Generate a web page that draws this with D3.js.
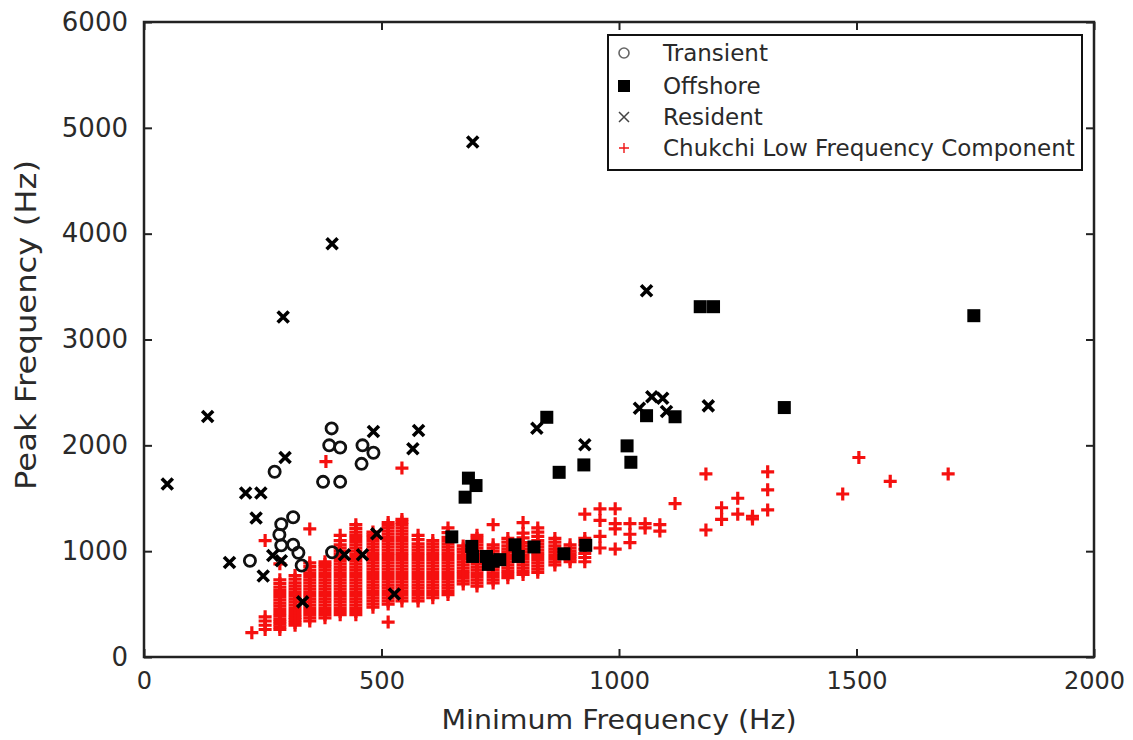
<!DOCTYPE html>
<html>
<head>
<meta charset="utf-8">
<script src="https://cdn.jsdelivr.net/npm/d3@7"></script>
<style>
  body { margin: 0; background: #fff; }
  svg text { font-family: "DejaVu Sans", sans-serif; fill: #2a2a2a; }
</style>
</head>
<body>
<div id="chart"></div>
<script>
// values (Hz)
const transientPts = [
  [395, 2160], [390, 2000], [413, 1980], [460, 2000], [483, 1930], [458, 1825],
  [275, 1750], [377, 1655], [413, 1655], [314, 1320], [289, 1255], [285, 1155],
  [289, 1055], [314, 1060], [325, 985], [332, 865], [223, 910], [396, 990]
];

const offshorePts = [
  [683, 1690], [699, 1620], [676, 1510], [848, 2265], [874, 1745], [926, 1815],
  [1017, 1995], [1025, 1840], [1058, 2280], [1118, 2270], [648, 1135], [690, 1045],
  [692, 950], [721, 950], [735, 905], [749, 920], [725, 875], [781, 1060], [788, 950],
  [821, 1040], [884, 975], [930, 1055], [1348, 2357], [1171, 3310], [1199, 3310], [1747, 3225]
];

const residentPts = [
  [134, 2272], [49, 1634], [214, 1549], [246, 1549], [297, 1885], [236, 1313],
  [180, 892], [251, 766], [271, 960], [289, 910], [334, 521], [422, 967], [460, 967],
  [490, 1165], [527, 596], [483, 2130], [566, 1967], [578, 2140], [692, 4866],
  [396, 3904], [293, 3212], [827, 2162], [928, 2005], [1043, 2351], [1069, 2460],
  [1092, 2445], [1100, 2319], [1188, 2373], [1058, 3460]
];

// Chukchi points grouped by their minimum-frequency column
const chukchiCols = [
  [227, [230]],
  [255, [260, 300, 340, 380, 1100]],
  [286, [260, 285, 310, 335, 360, 390, 420, 450, 480, 510, 540, 570, 600, 630, 660, 695, 730, 880]],
  [318, [300, 325, 350, 375, 400, 430, 460, 490, 520, 550, 580, 610, 640, 670, 700, 735, 770]],
  [349, [340, 370, 400, 430, 460, 490, 520, 550, 580, 610, 640, 670, 700, 730, 760, 790, 820, 855, 890, 1210]],
  [381, [370, 400, 430, 460, 490, 520, 550, 580, 610, 640, 670, 700, 730, 760, 790, 820, 850, 875, 900]],
  [413, [400, 430, 460, 490, 520, 550, 580, 610, 640, 670, 700, 730, 760, 790, 820, 850, 880, 910, 940, 970, 1000, 1030, 1060, 1100, 1150]],
  [446, [400, 430, 460, 490, 520, 550, 580, 610, 640, 670, 700, 730, 760, 790, 820, 850, 880, 910, 940, 970, 1000, 1030, 1060, 1090, 1120, 1150, 1180, 1215, 1250]],
  [482, [470, 500, 530, 560, 590, 620, 650, 680, 710, 740, 770, 800, 830, 860, 890, 920, 950, 980, 1010, 1040, 1070, 1100, 1130, 1155, 1180]],
  [514, [330, 500, 530, 560, 590, 620, 650, 680, 710, 740, 770, 800, 830, 860, 890, 920, 950, 980, 1010, 1040, 1070, 1100, 1130, 1160, 1190, 1220, 1245, 1270]],
  [543, [530, 560, 590, 620, 650, 680, 710, 740, 770, 800, 830, 860, 890, 920, 950, 980, 1010, 1040, 1070, 1100, 1130, 1160, 1190, 1220, 1250, 1275, 1300]],
  [577, [530, 560, 590, 620, 650, 680, 710, 740, 770, 800, 830, 860, 890, 920, 950, 980, 1010, 1040, 1070, 1110, 1150]],
  [608, [560, 590, 620, 650, 680, 710, 740, 770, 800, 830, 860, 890, 920, 950, 980, 1010, 1040, 1070, 1100]],
  [640, [590, 620, 650, 680, 710, 740, 770, 800, 830, 860, 890, 920, 950, 980, 1010, 1040, 1070, 1100, 1130, 1175, 1220]],
  [672, [690, 720, 750, 780, 810, 840, 870, 900, 930, 960, 990, 1020, 1050]],
  [701, [670, 700, 730, 760, 790, 820, 850, 880, 910, 940, 970, 1000, 1030, 1060, 1090, 1120, 1150]],
  [735, [700, 730, 760, 790, 820, 850, 880, 910, 940, 970, 1000, 1030, 1060, 1250]],
  [766, [750, 780, 810, 840, 870, 900, 930, 960, 990, 1020, 1050, 1085, 1120]],
  [798, [780, 810, 840, 870, 900, 930, 960, 990, 1020, 1050, 1080, 1125, 1170, 1270]],
  [829, [800, 830, 860, 890, 920, 950, 980, 1010, 1040, 1070, 1100, 1140, 1180, 1220]],
  [865, [870, 900, 930, 960, 990, 1020, 1050, 1085, 1120]],
  [897, [900, 925, 950, 975, 1000, 1030, 1060]],
  [928, [900, 940, 980, 1020, 1060, 1090, 1120, 1350]],
  [960, [1030, 1140, 1290, 1400]],
  [992, [1020, 1210, 1260, 1400]],
  [1023, [1080, 1160, 1260]],
  [1055, [1220, 1260]],
  [1086, [1190, 1250]],
  [1118, [1450]],
  [1183, [1200, 1730]],
  [1216, [1300, 1410]],
  [1250, [1350, 1500]],
  [1281, [1305, 1330]],
  [1313, [1390, 1580, 1750]],
  [1471, [1540]],
  [1505, [1885]],
  [1571, [1660]],
  [1693, [1730]]
];
const chukchiExtra = [[383, 1847], [543, 1785]];

const xTicks = [0, 500, 1000, 1500, 2000];
const yTicks = [0, 1000, 2000, 3000, 4000, 5000, 6000];
const seriesNames = ["Transient", "Offshore", "Resident", "Chukchi Low Frequency Component"];

const chukchiPts = chukchiCols.flatMap(([fx, ys]) => ys.map(fy => [fx, fy])).concat(chukchiExtra);

const width = 1133, height = 740;
const plotL = 144, plotR = 1094, plotT = 22, plotB = 657;

const svg = d3.select("#chart").append("svg")
  .attr("width", width)
  .attr("height", height);

const x = d3.scaleLinear().domain([0, 2000]).range([plotL, plotR]);
const y = d3.scaleLinear().domain([0, 6000]).range([plotB, plotT]);

// markers: red first so the black ones sit on top
svg.append("g").selectAll("path")
  .data(chukchiPts)
  .enter().append("path")
  .attr("transform", d => `translate(${x(d[0])},${y(d[1])})`)
  .attr("d", "M-6.5,0H6.5M0,-6.5V6.5")
  .attr("stroke", "#f5100f")
  .attr("stroke-width", 3.2)
  .attr("fill", "none");

svg.append("g").selectAll("circle")
  .data(transientPts)
  .enter().append("circle")
  .attr("cx", d => x(d[0]))
  .attr("cy", d => y(d[1]))
  .attr("r", 5.6)
  .attr("fill", "none")
  .attr("stroke", "#111")
  .attr("stroke-width", 2.8);

svg.append("g").selectAll("rect")
  .data(offshorePts)
  .enter().append("rect")
  .attr("x", d => x(d[0]) - 6.5)
  .attr("y", d => y(d[1]) - 6.5)
  .attr("width", 13)
  .attr("height", 13)
  .attr("fill", "#000");

svg.append("g").selectAll("path")
  .data(residentPts)
  .enter().append("path")
  .attr("transform", d => `translate(${x(d[0])},${y(d[1])})`)
  .attr("d", "M-5.5,-5.5L5.5,5.5M-5.5,5.5L5.5,-5.5")
  .attr("stroke", "#000")
  .attr("stroke-width", 3.6)
  .attr("fill", "none");

// axes with inward ticks on all four sides
const axisColor = "#222";
const fmt = d3.format("d");
function styleAxis(g) {
  g.select(".domain").remove();
  g.selectAll(".tick line").attr("stroke", axisColor).attr("stroke-width", 2);
}

svg.append("g")
  .attr("transform", `translate(0,${plotB})`)
  .call(d3.axisBottom(x).tickValues(xTicks).tickSize(-8).tickPadding(15).tickFormat(fmt))
  .call(styleAxis)
  .call(g => g.selectAll("text")
    .attr("font-size", 24)
    .attr("fill", "#2a2a2a"));

svg.append("g")
  .attr("transform", `translate(0,${plotT})`)
  .call(d3.axisTop(x).tickValues(xTicks).tickSize(-8).tickFormat(""))
  .call(styleAxis);

svg.append("g")
  .attr("transform", `translate(${plotL},0)`)
  .call(d3.axisLeft(y).tickValues(yTicks).tickSize(-8).tickPadding(16).tickFormat(fmt))
  .call(styleAxis)
  .call(g => g.selectAll("text")
    .attr("font-size", 26)
    .attr("fill", "#2a2a2a"));

svg.append("g")
  .attr("transform", `translate(${plotR},0)`)
  .call(d3.axisRight(y).tickValues(yTicks).tickSize(-8).tickFormat(""))
  .call(styleAxis);

svg.append("rect")
  .attr("x", plotL).attr("y", plotT)
  .attr("width", plotR - plotL).attr("height", plotB - plotT)
  .attr("fill", "none")
  .attr("stroke", axisColor)
  .attr("stroke-width", 2.5);

// axis titles
svg.append("text")
  .attr("x", 619)
  .attr("y", 729)
  .attr("text-anchor", "middle")
  .attr("font-size", 27)
  .attr("textLength", 355)
  .attr("lengthAdjust", "spacingAndGlyphs")
  .text("Minimum Frequency (Hz)");

svg.append("text")
  .attr("transform", "translate(36,325) rotate(-90)")
  .attr("text-anchor", "middle")
  .attr("font-size", 28)
  .attr("textLength", 330)
  .attr("lengthAdjust", "spacingAndGlyphs")
  .text("Peak Frequency (Hz)");

// legend
const legend = svg.append("g");
legend.append("rect")
  .attr("x", 608).attr("y", 35)
  .attr("width", 474).attr("height", 135)
  .attr("fill", "#fff")
  .attr("stroke", "#111")
  .attr("stroke-width", 2);

const rowY = [53, 86, 117, 148];
const mx = 624;
legend.append("circle").attr("cx", mx).attr("cy", rowY[0]).attr("r", 5)
  .attr("fill", "none").attr("stroke", "#666").attr("stroke-width", 1.6);
legend.append("rect").attr("x", mx - 6).attr("y", rowY[1] - 6).attr("width", 12).attr("height", 12)
  .attr("fill", "#000");
legend.append("path").attr("transform", `translate(${mx},${rowY[2]})`)
  .attr("d", "M-5,-5L5,5M-5,5L5,-5").attr("stroke", "#444").attr("stroke-width", 1.5);
legend.append("path").attr("transform", `translate(${mx},${rowY[3]})`)
  .attr("d", "M-5,0H5M0,-5V5").attr("stroke", "#f01515").attr("stroke-width", 1.4);

legend.selectAll("text.lbl")
  .data(seriesNames)
  .enter().append("text")
  .attr("class", "lbl")
  .attr("x", 663)
  .attr("y", (d, i) => rowY[i])
  .attr("dy", "0.35em")
  .attr("font-size", 23)
  .text(d => d);
</script>
</body>
</html>
